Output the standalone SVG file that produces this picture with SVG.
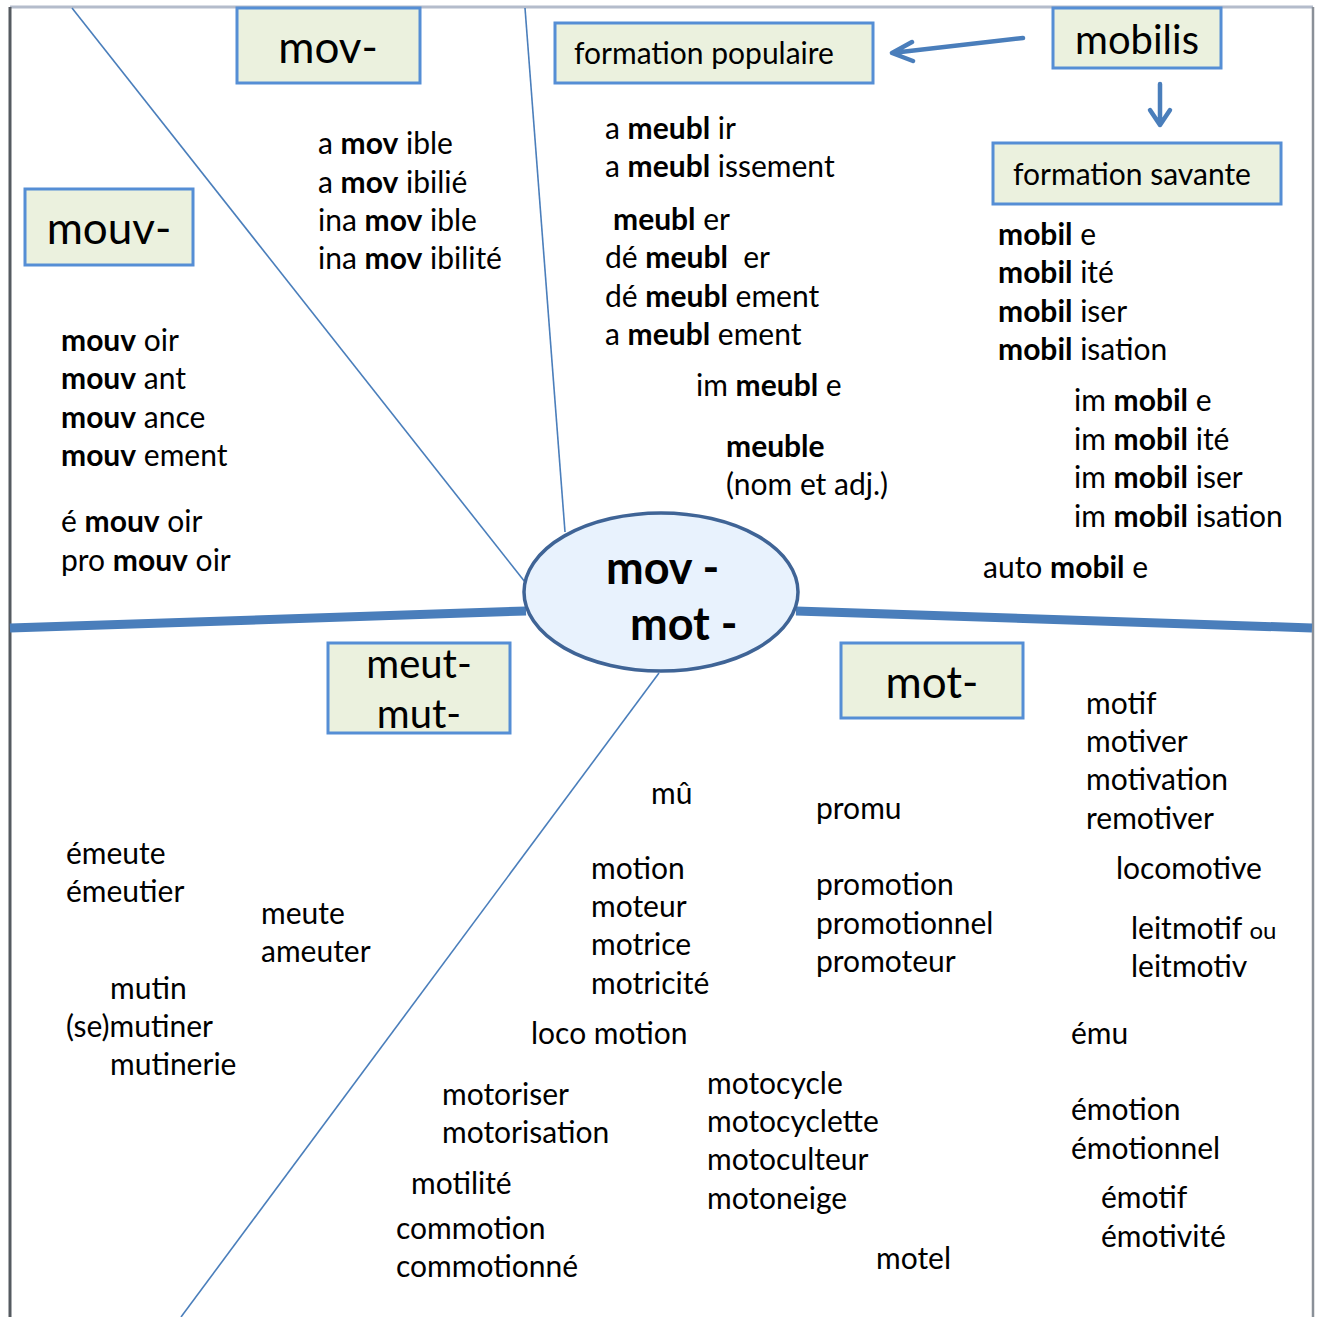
<svg xmlns="http://www.w3.org/2000/svg" width="1322" height="1317" viewBox="0 0 1322 1317">
<style>
text{font-family:Lato,"Open Sans","Liberation Sans",sans-serif;font-size:30px;fill:#000}
.b{font-weight:bold}
.box{fill:#ebf1de;stroke:#558ed5;stroke-width:3}
text.big{font-size:44px}
text.med{font-size:40px}
text.ctr{font-size:45px;font-weight:bold}
text.mob{font-size:40px}
.thin{stroke:#4a7ebb;stroke-width:1.6;fill:none}
.thick{stroke:#4a7ebb;stroke-width:9;fill:none}
.arr{stroke:#4a7ebb;stroke-width:4.5;fill:none;stroke-linecap:round;stroke-linejoin:round}
</style>
<rect width="1322" height="1317" fill="#fff"/>
<g id="frame">
<line x1="10" y1="7" x2="1313" y2="7" stroke="#b4bccb" stroke-width="3"/>
<line x1="10" y1="7" x2="10" y2="1317" stroke="#555a60" stroke-width="3"/>
<line x1="1313" y1="7" x2="1313" y2="1317" stroke="#8a9098" stroke-width="2.5"/>
</g>
<g id="connectors">
<line class="thin" x1="72" y1="8" x2="525" y2="582"/>
<line class="thin" x1="525" y1="8" x2="565" y2="532"/>
<line class="thin" x1="659" y1="673" x2="181" y2="1317"/>
<line class="thick" x1="10" y1="628" x2="526" y2="611"/>
<line class="thick" x1="796" y1="611" x2="1312" y2="628"/>
<path class="arr" d="M1023,38 L892,53 M912,42 L892,53 L913,61"/>
<path class="arr" d="M1160,84 L1160,125 M1150,110 L1160,125 L1170,110"/>
</g>
<g id="center">
<ellipse cx="661" cy="592" rx="137" ry="79" fill="#e8f2fd" stroke="#3f6496" stroke-width="3.5"/>
<text x="606" y="584" class="ctr">mov -</text>
<text x="630" y="640" class="ctr">mot -</text>
</g>
<g id="node-mov">
<rect class="box" x="237" y="8" width="183" height="75"/>
<text x="328" y="63" class="big" text-anchor="middle">mov-</text>
</g>
<g id="node-mouv">
<rect class="box" x="25" y="189" width="168" height="76"/>
<text x="109" y="244" class="big" text-anchor="middle">mouv-</text>
</g>
<g id="node-populaire">
<rect class="box" x="555" y="23" width="318" height="60"/>
<text x="574" y="64">formation populaire</text>
</g>
<g id="node-mobilis">
<rect class="box" x="1053" y="8" width="168" height="60"/>
<text x="1137" y="54" class="mob" text-anchor="middle">mobilis</text>
</g>
<g id="node-savante">
<rect class="box" x="993" y="143" width="288" height="61"/>
<text x="1013" y="185">formation savante</text>
</g>
<g id="node-meut">
<rect class="box" x="328" y="643" width="182" height="90"/>
<text x="419" y="678" class="med" text-anchor="middle">meut-</text>
<text x="419" y="728" class="med" text-anchor="middle">mut-</text>
</g>
<g id="node-mot">
<rect class="box" x="841" y="643" width="182" height="75"/>
<text x="932" y="698" class="big" text-anchor="middle">mot-</text>
</g>
<g id="words">
<text x="318" y="154">a <tspan class="b">mov</tspan> ible</text>
<text x="318" y="193">a <tspan class="b">mov</tspan> ibilié</text>
<text x="318" y="231">ina <tspan class="b">mov</tspan> ible</text>
<text x="318" y="269">ina <tspan class="b">mov</tspan> ibilité</text>
<text x="605" y="139">a <tspan class="b">meubl</tspan> ir</text>
<text x="605" y="177">a <tspan class="b">meubl</tspan> issement</text>
<text x="613" y="230"><tspan class="b">meubl</tspan> er</text>
<text x="605" y="268" xml:space="preserve">dé <tspan class="b">meubl</tspan>  er</text>
<text x="605" y="307">dé <tspan class="b">meubl</tspan> ement</text>
<text x="605" y="345">a <tspan class="b">meubl</tspan> ement</text>
<text x="696" y="396">im <tspan class="b">meubl</tspan> e</text>
<text x="726" y="457" class="b">meuble</text>
<text x="726" y="495">(nom et adj.)</text>
<text x="998" y="245"><tspan class="b">mobil</tspan> e</text>
<text x="998" y="283"><tspan class="b">mobil</tspan> ité</text>
<text x="998" y="322"><tspan class="b">mobil</tspan> iser</text>
<text x="998" y="360"><tspan class="b">mobil</tspan> isation</text>
<text x="1074" y="411">im <tspan class="b">mobil</tspan> e</text>
<text x="1074" y="450">im <tspan class="b">mobil</tspan> ité</text>
<text x="1074" y="488">im <tspan class="b">mobil</tspan> iser</text>
<text x="1074" y="527">im <tspan class="b">mobil</tspan> isation</text>
<text x="983" y="578">auto <tspan class="b">mobil</tspan> e</text>
<text x="61" y="351"><tspan class="b">mouv</tspan> oir</text>
<text x="61" y="389"><tspan class="b">mouv</tspan> ant</text>
<text x="61" y="428"><tspan class="b">mouv</tspan> ance</text>
<text x="61" y="466"><tspan class="b">mouv</tspan> ement</text>
<text x="61" y="532">é <tspan class="b">mouv</tspan> oir</text>
<text x="61" y="571">pro <tspan class="b">mouv</tspan> oir</text>
<text x="1086" y="714">motif</text>
<text x="1086" y="752">motiver</text>
<text x="1086" y="790">motivation</text>
<text x="1086" y="829">remotiver</text>
<text x="1116" y="879">locomotive</text>
<text x="1131" y="939">leitmotif <tspan font-size="24">ou</tspan></text>
<text x="1131" y="977">leitmotiv</text>
<text x="66" y="864">émeute</text>
<text x="66" y="902">émeutier</text>
<text x="261" y="924">meute</text>
<text x="261" y="962">ameuter</text>
<text x="110" y="999">mutin</text>
<text x="66" y="1037">(se)mutiner</text>
<text x="110" y="1075">mutinerie</text>
<text x="651" y="804">mû</text>
<text x="816" y="819">promu</text>
<text x="591" y="879">motion</text>
<text x="591" y="917">moteur</text>
<text x="591" y="955">motrice</text>
<text x="591" y="994">motricité</text>
<text x="816" y="895">promotion</text>
<text x="816" y="934">promotionnel</text>
<text x="816" y="972">promoteur</text>
<text x="531" y="1044">loco motion</text>
<text x="1071" y="1044">ému</text>
<text x="442" y="1105">motoriser</text>
<text x="442" y="1143">motorisation</text>
<text x="707" y="1094">motocycle</text>
<text x="707" y="1132">motocyclette</text>
<text x="707" y="1170">motoculteur</text>
<text x="707" y="1209">motoneige</text>
<text x="1071" y="1120">émotion</text>
<text x="1071" y="1159">émotionnel</text>
<text x="411" y="1194">motilité</text>
<text x="1101" y="1208">émotif</text>
<text x="1101" y="1247">émotivité</text>
<text x="396" y="1239">commotion</text>
<text x="396" y="1277">commotionné</text>
<text x="876" y="1269">motel</text>
</g>
</svg>
